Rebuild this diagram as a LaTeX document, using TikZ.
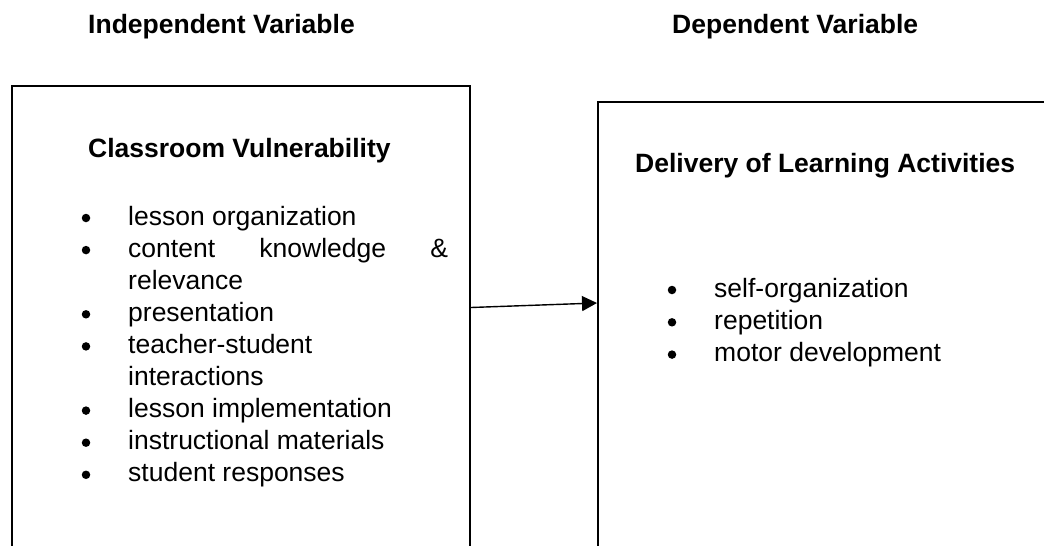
\documentclass[tikz,border=0pt]{standalone}
\usepackage{fontspec}
\setmainfont{Liberation Sans}
\usetikzlibrary{arrows.meta}
\begin{document}
\begin{tikzpicture}[x=1pt,y=-1pt,
  txt/.style={anchor=base west, inner sep=0pt, font=\fontsize{26.5}{32}\selectfont},
  hd/.style={anchor=base west, inner sep=0pt, font=\fontsize{26.5}{32}\selectfont\bfseries},
  bul/.style={circle, fill=black, inner sep=0pt, minimum size=8.5pt, yshift=7pt},
  box/.style={draw, line width=2pt, inner sep=0pt, anchor=north west},
  link/.style={line width=1.4pt, -{Triangle[length=15pt,width=15pt]}}]
\useasboundingbox (0,0) rectangle (1044,546);
\clip (0,0) rectangle (1044,546);
\fill[white] (0,0) rectangle (1044,546);
% headings
\node[hd] (ivar) at (88,33) {Independent Variable};
\node[hd] (dvar) at (672,33) {Dependent Variable};
% boxes
\node[box, minimum width=458pt, minimum height=520pt] (lbox) at (11,85) {};
\node[box, minimum width=500pt, minimum height=500pt] (rbox) at (597,101) {};
% left box content
\node[hd] (lt) at (88,157) {Classroom Vulnerability};
\node[bul] (lb1) at (86,225) {};
\node[txt] (l1) at (128,225) {lesson organization};
\node[bul] (lb2) at (86,257.1) {};
\node[txt] (l2) at (128,257.1) {\hbox to 320pt{content\hfil knowledge\hfil\&}};
\node[txt] (l2b) at (128,289.2) {relevance};
\node[bul] (lb3) at (86,321.3) {};
\node[txt] (l3) at (128,321.3) {presentation};
\node[bul] (lb4) at (86,353.4) {};
\node[txt] (l4) at (128,353.4) {teacher-student};
\node[txt] (l4b) at (128,385.5) {interactions};
\node[bul] (lb5) at (86,417.6) {};
\node[txt] (l5) at (128,417.6) {lesson implementation};
\node[bul] (lb6) at (86,449.7) {};
\node[txt] (l6) at (128,449.7) {instructional materials};
\node[bul] (lb7) at (86,481.8) {};
\node[txt] (l7) at (128,481.8) {student responses};
% right box content
\node[hd] (rt) at (635,172) {Delivery of Learning Activities};
\node[bul] (rb1) at (672,297) {};
\node[txt] (r1) at (714,297) {self-organization};
\node[bul] (rb2) at (672,329.3) {};
\node[txt] (r2) at (714,329.3) {repetition};
\node[bul] (rb3) at (672,361.6) {};
\node[txt] (r3) at (714,361.6) {motor development};
% connector
\coordinate (from) at (lbox.north east |- 0,307.5);
\coordinate (to) at (rbox.north west |- 0,303);
\draw[link] (from) -- (to);
\end{tikzpicture}
\end{document}
